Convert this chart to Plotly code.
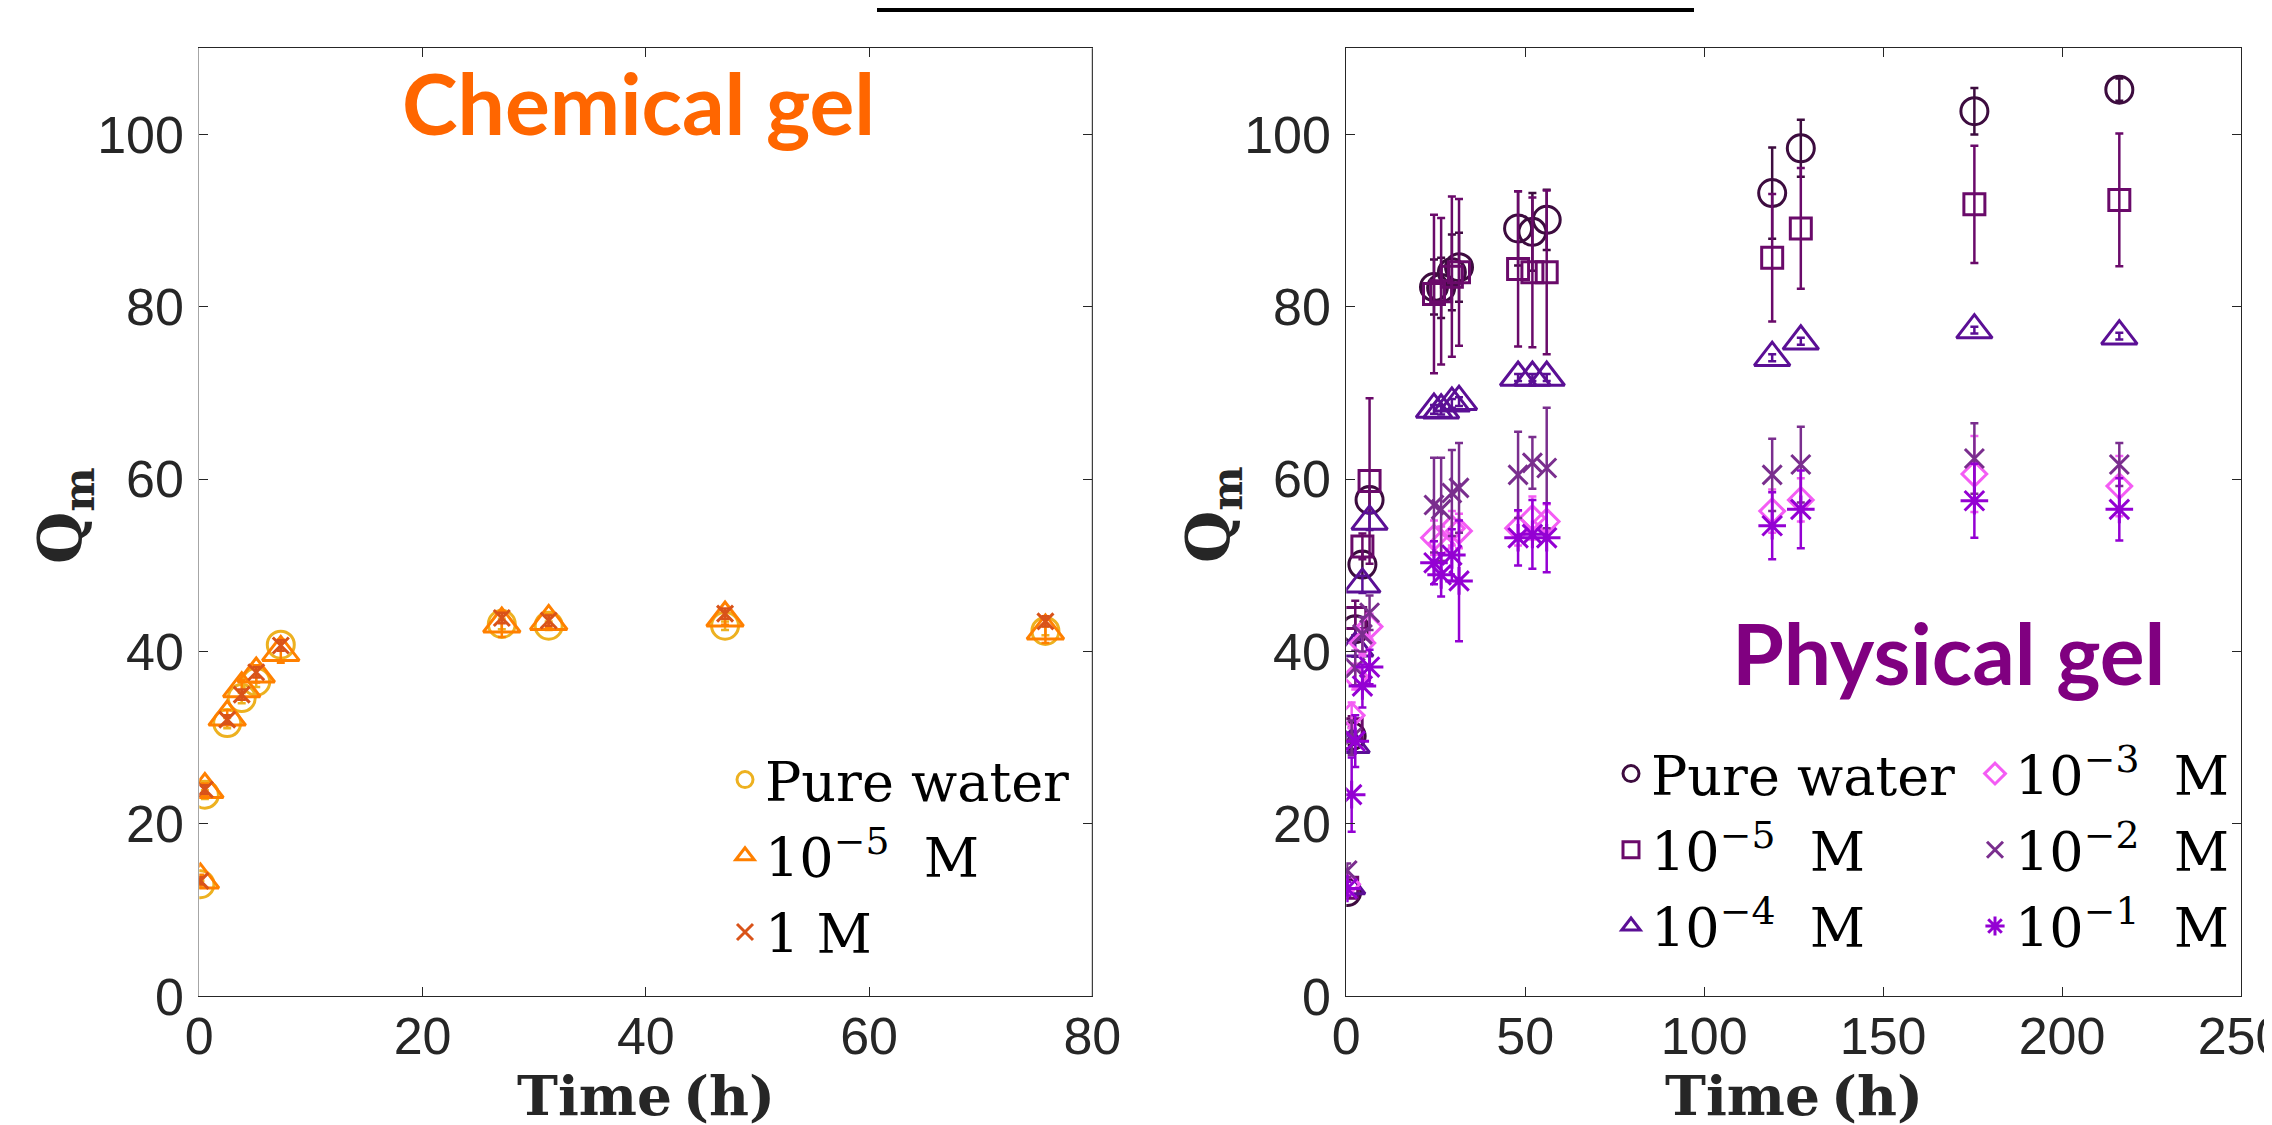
import plotly.graph_objects as go

# ---------------- data ----------------
# Chemical gel (left panel)
chem_time = [0.1, 0.5, 2.5, 3.8, 5.1, 7.3, 27.1, 31.3, 47.1, 75.8]
chem_pure = [13.0, 23.4, 31.7, 34.6, 36.5, 40.8, 43.2, 43.0, 43.0, 42.4]
chem_pure_err = [0.4, 0.5, 0.6, 0.6, 0.6, 0.6, 0.6, 0.5, 0.5, 0.5]
chem_1e5 = [13.5, 24.0, 32.4, 35.7, 37.4, 39.9, 43.2, 43.5, 43.9, 42.4]
chem_1e5_err = [0.6, 0.7, 0.8, 1.0, 1.0, 1.2, 1.5, 0.8, 0.8, 1.4]
chem_1M = [13.4, 24.0, 32.1, 35.0, 37.6, 40.7, 43.9, 43.6, 44.4, 43.5]
chem_1M_err = [0.4, 0.5, 0.5, 0.6, 0.6, 0.6, 0.6, 0.6, 0.6, 0.6]

# Physical gel (right panel)
phys_time = [0.25, 1.5, 2.5, 4.5, 6.5, 24.5, 26.5, 29.5, 31.5, 48, 52, 56, 119, 127, 175.5, 216]
phys_pure = [12.1, 30.2, 42.6, 50.1, 57.6, 82.3, 82.2, 84.0, 84.6, 89.1, 88.7, 90.1, 93.2, 98.4, 102.7, 105.2]
phys_pure_err = [0.5, 1.0, 1.5, 1.5, 1.5, 3.2, 3.5, 4.4, 4.0, 4.3, 4.5, 3.5, 5.3, 3.3, 2.7, 1.3]
phys_1e5 = [12.6, 31.0, 43.9, 52.2, 59.8, 81.5, 81.8, 83.5, 84.0, 84.4, 84.0, 84.0, 85.7, 89.1, 91.9, 92.4]
phys_1e5_err = [0.8, 1.5, 2.0, 1.5, 9.6, 9.2, 8.5, 9.3, 8.5, 9.0, 8.7, 9.5, 7.4, 7.0, 6.8, 7.7]
phys_1e4 = [12.8, 29.2, 40.4, 47.8, 55.1, 68.1, 68.0, 68.8, 69.0, 71.8, 71.8, 71.8, 74.1, 76.0, 77.3, 76.6]
phys_1e4_err = [0.5, 0.8, 1.0, 1.0, 1.0, 0.5, 0.5, 0.5, 0.5, 0.4, 0.4, 0.4, 0.4, 0.4, 0.4, 0.4]
phys_1e3 = [13.0, 32.6, 37.1, 41.0, 42.9, 53.2, 52.5, 54.3, 54.0, 54.3, 55.5, 55.1, 56.3, 57.6, 60.6, 59.2]
phys_1e3_err = [0.8, 1.5, 1.5, 1.5, 1.5, 2.0, 2.0, 2.0, 2.0, 2.0, 2.5, 2.0, 2.5, 2.5, 4.4, 3.5]
phys_1e2 = [14.6, 30.0, 38.1, 42.0, 44.5, 57.0, 56.5, 58.4, 59.0, 60.5, 61.9, 61.3, 60.5, 61.7, 62.4, 61.7]
phys_1e2_err = [0.8, 2.0, 2.0, 2.0, 2.0, 5.5, 6.0, 5.0, 5.2, 5.0, 3.0, 7.0, 4.2, 4.4, 4.1, 2.5]
phys_1e1 = [12.5, 23.4, 29.6, 36.0, 38.2, 50.3, 48.9, 51.2, 48.2, 53.2, 53.6, 53.2, 54.6, 56.5, 57.5, 56.5]
phys_1e1_err = [0.8, 4.3, 3.0, 2.5, 2.0, 2.5, 2.5, 3.0, 7.0, 3.2, 4.0, 4.0, 3.9, 4.5, 4.3, 3.6]

chem_labels = ["Pure water", "10<sup>\u22125</sup>\u00a0\u00a0M", "1\u00a0M"]
phys_labels = ["Pure water", "10<sup>\u22125</sup>\u00a0\u00a0M", "10<sup>\u22124</sup>\u00a0\u00a0M",
               "10<sup>\u22123</sup>\u00a0\u00a0M", "10<sup>\u22122</sup>\u00a0\u00a0M", "10<sup>\u22121</sup>\u00a0\u00a0M"]

x_ticks_chem = [0, 20, 40, 60, 80]
x_ticks_phys = [0, 50, 100, 150, 200, 250]
y_ticks = [0, 20, 40, 60, 80, 100]

# ---------------- figure ----------------
W, H = 2272, 1125
fig = go.Figure()

def add(x, y, err, name, color, symbol, size, xa, ya, legend, group, lw=2.5):
    fig.add_trace(go.Scatter(
        x=x, y=y, name=name, mode="markers", xaxis=xa, yaxis=ya, legend=legend,
        legendgroup=group,
        marker=dict(symbol=symbol, size=size, color=color,
                    line=dict(color=color, width=lw)),
        error_y=dict(type="data", array=err, color=color, thickness=2.5, width=4),
        showlegend=True,
    ))

add(chem_time, chem_pure, chem_pure_err, chem_labels[0], "#EDB120", "circle-open", 27, "x", "y", "legend", "c0", 3)
add(chem_time, chem_1e5, chem_1e5_err, chem_labels[1], "#FF8000", "triangle-up-open", 32, "x", "y", "legend", "c1", 3)
add(chem_time, chem_1M, chem_1M_err, chem_labels[2], "#D95319", "x-thin-open", 16, "x", "y", "legend", "c2", 3)

add(phys_time, phys_pure, phys_pure_err, phys_labels[0], "#3D0C3F", "circle-open", 27, "x2", "y2", "legend2", "p0", 3)
add(phys_time, phys_1e5, phys_1e5_err, phys_labels[1], "#6A0A6A", "square-open", 21, "x2", "y2", "legend2", "p1", 3)
add(phys_time, phys_1e4, phys_1e4_err, phys_labels[2], "#5B0F95", "triangle-up-open", 31, "x2", "y2", "legend2", "p2", 3)
add(phys_time, phys_1e3, phys_1e3_err, phys_labels[3], "#F45CF4", "diamond-open", 19, "x2", "y2", "legend3", "p3", 3)
add(phys_time, phys_1e2, phys_1e2_err, phys_labels[4], "#7A2E8E", "x-thin-open", 19, "x2", "y2", "legend3", "p4", 3)
add(phys_time, phys_1e1, phys_1e1_err, phys_labels[5], "#9400D3", "asterisk-open", 23, "x2", "y2", "legend3", "p5", 3)

tickfont = dict(family="Liberation Sans, Arial", size=52, color="#262626")
axis_common = dict(ticks="inside", ticklen=9, tickwidth=1, tickcolor="#262626",
                   showgrid=False, zeroline=False, showline=True, linecolor="#262626",
                   linewidth=1, mirror="ticks", tickfont=tickfont, automargin=False)
x_extra = dict(ticklabeloverflow="allow", ticklabelstandoff=-6)
y_extra = dict(ticklabelstandoff=4)

yd = [1 - 988.3 / H, 1 - 40.3 / H]
fig.update_layout(
    width=W, height=H, margin=dict(l=0, r=0, t=0, b=0, autoexpand=False),
    paper_bgcolor="white", plot_bgcolor="white",
    xaxis=dict(domain=[191.3 / W, 1084.3 / W], range=[0, 80], tickvals=x_ticks_chem, anchor="y",
               **axis_common, **x_extra),
    yaxis=dict(domain=yd, range=[0, 110], tickvals=y_ticks, anchor="x",
               **{**axis_common, "linecolor": "#a6a6a6"}, **y_extra),
    xaxis2=dict(domain=[1338.3 / W, 2233.0 / W], range=[0, 250], tickvals=x_ticks_phys, anchor="y2",
                **axis_common, **x_extra),
    yaxis2=dict(domain=yd, range=[0, 110], tickvals=y_ticks, anchor="x2", **axis_common, **y_extra),
    showlegend=True,
)

legend_font = dict(family="DejaVu Serif", size=54, color="black")
leg_common = dict(font=legend_font, bgcolor="rgba(0,0,0,0)", borderwidth=0,
                  xanchor="left", yanchor="top", orientation="v", itemsizing="trace",
                  tracegroupgap=3)
fig.update_layout(
    legend=dict(x=717 / W, y=1 - 730 / H, **leg_common),
    legend2=dict(x=1603 / W, y=1 - 724 / H, **leg_common),
    legend3=dict(x=1967 / W, y=1 - 724 / H, **leg_common),
)

# right spine of left panel (dark), top cropped line
fig.add_shape(type="line", xref="x domain", yref="y domain", x0=1, x1=1, y0=0, y1=1,
              line=dict(color="#262626", width=1))
fig.add_shape(type="rect", xref="paper", yref="paper", x0=869 / W, x1=1686 / W, y0=1 - 4 / H, y1=1,
              line=dict(width=0), fillcolor="black")

title_font = dict(family="DejaVu Serif", size=55, color="#262626")
q_font = dict(family="DejaVu Serif", size=60, color="#262626")
annos = [
    dict(text="<b>Time</b>\u2009<b>(h)</b>", x=0.5, xref="x domain", y=1 - 1087 / H, yref="paper",
         font=title_font, showarrow=False, xanchor="center", yanchor="middle"),
    dict(text="<b>Time</b>\u2009<b>(h)</b>", x=0.5, xref="x2 domain", y=1 - 1087 / H, yref="paper",
         font=title_font, showarrow=False, xanchor="center", yanchor="middle"),
    dict(text="<b>Q<sub>m</sub></b>", x=56 / W, xref="paper", y=1 - 507 / H, yref="paper",
         font=q_font, showarrow=False, textangle=-90, xanchor="center", yanchor="middle"),
    dict(text="<b>Q<sub>m</sub></b>", x=1204 / W, xref="paper", y=1 - 507 / H, yref="paper",
         font=q_font, showarrow=False, textangle=-90, xanchor="center", yanchor="middle"),
    dict(text="<b>Chemical gel</b>", x=630 / W, xref="paper", y=1 - 94 / H, yref="paper",
         font=dict(family="Lato", size=84, color="#FF6600"), showarrow=False,
         xanchor="center", yanchor="middle"),
    dict(text="<b>Physical gel</b>", x=1940 / W, xref="paper", y=1 - 644 / H, yref="paper",
         font=dict(family="Lato", size=84, color="#800080"), showarrow=False,
         xanchor="center", yanchor="middle"),
]
for a in annos:
    fig.add_annotation(**a)

fig.write_html("out.html")
